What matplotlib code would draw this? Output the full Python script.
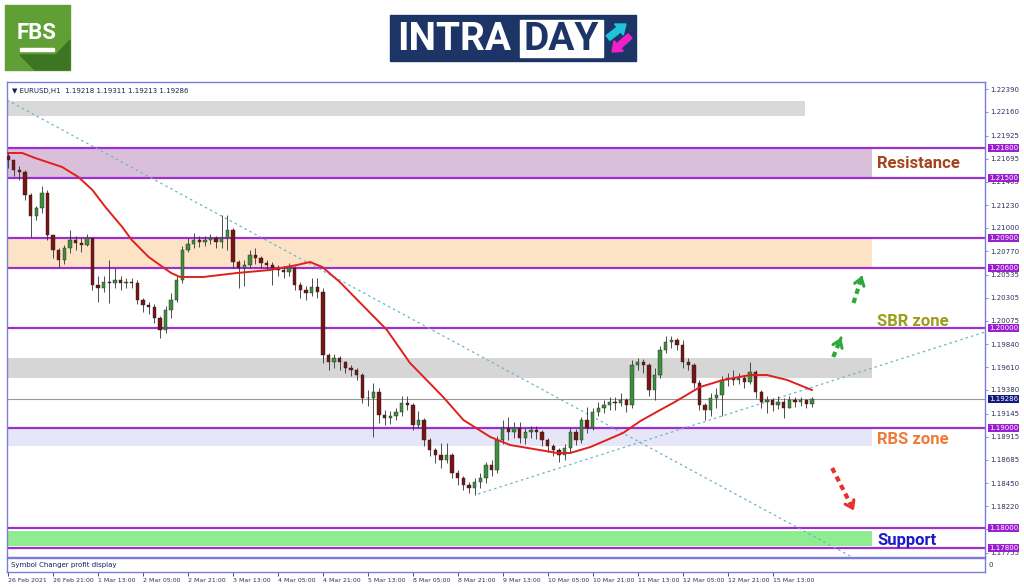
import matplotlib.pyplot as plt
from matplotlib.patches import Rectangle, Polygon, FancyArrow
from matplotlib.transforms import blended_transform_factory

# EURUSD H1 chart (2-hour candles)
closes = [
    1.2168, 1.2158, 1.2156, 1.2133, 1.2112, 1.2120, 1.2135, 1.2093, 1.2078, 1.2068,
    1.2080, 1.2088, 1.2085, 1.2083, 1.2090, 1.2043, 1.2040, 1.2046, 1.2045, 1.2048,
    1.2045, 1.2046, 1.2045, 1.2028, 1.2023, 1.2021, 1.2010, 1.1998, 1.2018, 1.2028,
    1.2048, 1.2078, 1.2084, 1.2088, 1.2086, 1.2088, 1.2090, 1.2086, 1.2090, 1.2098,
    1.2066, 1.2060, 1.2063, 1.2073, 1.2070, 1.2065, 1.2063, 1.2060, 1.2058, 1.2056,
    1.2060, 1.2043, 1.2038, 1.2035, 1.2041, 1.2036, 1.1973, 1.1966, 1.1970, 1.1966,
    1.1960, 1.1958, 1.1953, 1.1930, 1.1930, 1.1936, 1.1913, 1.1910, 1.1912, 1.1916,
    1.1925, 1.1923, 1.1903, 1.1908, 1.1888, 1.1878, 1.1873, 1.1868, 1.1873, 1.1855,
    1.1850, 1.1843, 1.1840, 1.1846, 1.1850, 1.1863, 1.1858, 1.1888, 1.1900, 1.1896,
    1.1900, 1.1890, 1.1896, 1.1898, 1.1896, 1.1888, 1.1882, 1.1878, 1.1873, 1.1880,
    1.1896, 1.1888, 1.1908, 1.1900, 1.1916, 1.1920, 1.1923, 1.1926, 1.1925, 1.1928,
    1.1923, 1.1963, 1.1966, 1.1963, 1.1938, 1.1953, 1.1978, 1.1986, 1.1988, 1.1983,
    1.1966, 1.1963, 1.1945, 1.1923, 1.1918, 1.1930, 1.1933, 1.1948, 1.1950, 1.1948,
    1.1950, 1.1946, 1.1956, 1.1936, 1.1926, 1.1928, 1.1923, 1.1926, 1.1920, 1.1928,
    1.1926, 1.1928, 1.1924, 1.19286]
highs = [
    1.2175, 1.2165, 1.2162, 1.2158, 1.2135, 1.2122, 1.2142, 1.2138, 1.2092, 1.2080,
    1.2083, 1.2098, 1.2092, 1.2090, 1.2094, 1.2090, 1.2052, 1.2052, 1.2068, 1.2060,
    1.2052, 1.2050, 1.2050, 1.2048, 1.2030, 1.2026, 1.2024, 1.2012, 1.2022, 1.2035,
    1.2052, 1.2082, 1.2090, 1.2095, 1.2092, 1.2092, 1.2094, 1.2092, 1.2113, 1.2113,
    1.2100, 1.2068, 1.2068, 1.2078, 1.2080, 1.2072, 1.2068, 1.2066, 1.2063, 1.2062,
    1.2065, 1.2062, 1.2046, 1.2042, 1.2050, 1.2050, 1.2040, 1.1975, 1.1974, 1.1972,
    1.1967, 1.1963, 1.1960, 1.1955, 1.1938, 1.1945, 1.1940, 1.1918, 1.1917, 1.1920,
    1.1932, 1.1932, 1.1925, 1.1917, 1.1910, 1.1890, 1.1880, 1.1885, 1.1885, 1.1875,
    1.1858, 1.1852, 1.1846, 1.1850, 1.1855, 1.1866, 1.1868, 1.1892, 1.1908, 1.1911,
    1.1906, 1.1906, 1.1900, 1.1902, 1.1902, 1.1898, 1.1890, 1.1884, 1.1880, 1.1884,
    1.1900, 1.1899, 1.1911, 1.1921, 1.1920, 1.1926, 1.1928, 1.1931, 1.1931, 1.1935,
    1.1930, 1.1968, 1.1970, 1.1969, 1.1965, 1.1960, 1.1982, 1.1992, 1.1992, 1.1990,
    1.1988, 1.1970, 1.1965, 1.1948, 1.1925, 1.1935, 1.1940, 1.1952, 1.1955, 1.1958,
    1.1955, 1.1953, 1.1966, 1.1958, 1.1938, 1.1932, 1.1930, 1.1932, 1.1930, 1.1932,
    1.1931, 1.1931, 1.1929, 1.19311]
lows = [
    1.2160, 1.2152, 1.2148, 1.2128, 1.2091, 1.2108, 1.2115, 1.2088, 1.2070, 1.2061,
    1.2064, 1.2075, 1.2078, 1.2076, 1.2082, 1.2038, 1.2026, 1.2036, 1.2025, 1.2040,
    1.2038, 1.2040, 1.2040, 1.2024, 1.2016, 1.2014, 1.2005, 1.1990, 1.1995, 1.2010,
    1.2026, 1.2045, 1.2076, 1.2080, 1.2081, 1.2082, 1.2084, 1.2080, 1.2080, 1.2078,
    1.2060, 1.2040, 1.2042, 1.2060, 1.2064, 1.2060, 1.2058, 1.2043, 1.2052, 1.2050,
    1.2052, 1.2038, 1.2030, 1.2028, 1.2032, 1.2030, 1.1965, 1.1958, 1.1960, 1.1958,
    1.1955, 1.1952, 1.1948, 1.1925, 1.1922, 1.1891, 1.1905, 1.1903, 1.1904, 1.1908,
    1.1912, 1.1918, 1.1898, 1.1900, 1.1882, 1.1872, 1.1865, 1.1860, 1.1865, 1.1850,
    1.1843, 1.1838, 1.1835, 1.1833, 1.1840, 1.1845, 1.1852, 1.1855, 1.1884, 1.1888,
    1.1890, 1.1885, 1.1884, 1.1890, 1.1889, 1.1882, 1.1876, 1.1872, 1.1866, 1.1868,
    1.1875, 1.1883, 1.1885, 1.1895, 1.1898, 1.1912, 1.1915, 1.1918, 1.1918, 1.1922,
    1.1916, 1.1920, 1.1958, 1.1955, 1.1932, 1.1928, 1.1950, 1.1975, 1.1980, 1.1978,
    1.1960, 1.1958, 1.1940, 1.1918, 1.1908, 1.1912, 1.1920, 1.1912, 1.1942, 1.1943,
    1.1944, 1.1940, 1.1944, 1.1930, 1.1920, 1.1915, 1.1917, 1.1919, 1.1910, 1.1920,
    1.1921, 1.1922, 1.1920, 1.19213]
first_open = 1.2172
opens = [first_open] + closes[:-1]

# moving average (red line), read as points
ma_x = [0, 2.5, 4.8, 9.6, 12.5, 15, 17.3, 20.3, 22, 25, 29, 30.6, 34.7, 40.7, 46.6,
        51.4, 53.7, 55.9, 59, 67.4, 71.5, 77.4, 81, 85.8, 89.3, 97.7, 100, 103.6,
        109.4, 112.5, 116, 118.3, 123.1, 127.2, 132, 135, 138.6, 143]
ma_y = [1.2175, 1.2175, 1.2170, 1.2161, 1.2151, 1.2138, 1.2121, 1.2101, 1.2088, 1.2071,
        1.2055, 1.2051, 1.2051, 1.2055, 1.2058, 1.2063, 1.2066, 1.2061, 1.2046, 1.1998,
        1.1965, 1.1931, 1.1908, 1.1891, 1.1883, 1.1875, 1.1875, 1.1881, 1.1895, 1.1907,
        1.1918, 1.1925, 1.1941, 1.1948, 1.1953, 1.1953, 1.1948, 1.1938]

# trend lines (start/end points)
down_tl_x = [-0.2, 149.8]
down_tl_y = [1.2228, 1.1772]
up_tl_x = [83.6, 173.8]
up_tl_y = [1.1834, 1.1996]

# levels and zones
level_lines = [1.2180, 1.2150, 1.2090, 1.2060, 1.2000, 1.1900, 1.1800, 1.1780]
last_price = 1.19286
zones = [  # (low, high, colour, right end)
    (1.2212, 1.2227, '#d9d9d9', 141.8),
    (1.2150, 1.2180, '#d9bfd9', 153.7),
    (1.2060, 1.2090, '#fde3c6', 153.7),
    (1.1950, 1.1970, '#d6d6d6', 153.7),
    (1.1882, 1.1900, '#e6e6f8', 153.7),
    (1.1782, 1.1797, '#90ec90', 153.7),
]
zone_labels = [('Resistance', 1.2164, '#a4441c'), ('SBR zone', 1.2007, '#9c9c1c'),
               ('RBS zone', 1.1888, '#f07a38'), ('Support', 1.1788, '#1a1ac8')]

price_ticks = [1.22390, 1.22160, 1.21925, 1.21695, 1.21465, 1.21230, 1.21000, 1.20770,
               1.20535, 1.20305, 1.20075, 1.19840, 1.19610, 1.19380, 1.19145, 1.18915,
               1.18685, 1.18450, 1.18220, 1.17990, 1.17755]
date_pos = list(range(0, 137, 8))
date_labels = ['26 Feb 2021', '26 Feb 21:00', '1 Mar 13:00', '2 Mar 05:00', '2 Mar 21:00',
               '3 Mar 13:00', '4 Mar 05:00', '4 Mar 21:00', '5 Mar 13:00', '8 Mar 05:00',
               '8 Mar 21:00', '9 Mar 13:00', '10 Mar 05:00', '10 Mar 21:00', '11 Mar 13:00',
               '12 Mar 05:00', '12 Mar 21:00', '15 Mar 13:00']

W, H = 1024, 587
fig = plt.figure(figsize=(W / 100, H / 100), dpi=100)

# header logos, drawn in pixel coordinates
bg = fig.add_axes([0, 0, 1, 1])
bg.set_xlim(0, W)
bg.set_ylim(H, 0)
bg.axis('off')
bg.add_patch(Rectangle((5, 5), 65, 65, color='#5f9f35'))
bg.add_patch(Polygon([(20, 55), (56, 55), (70, 40), (70, 70), (35, 70)], color='#3e7522'))
bg.text(37, 33, 'FBS', color='white', fontsize=16, fontweight='bold', family='Roboto',
        ha='center', va='center')
bg.add_patch(Rectangle((20, 48), 34, 3, color='white'))
bg.add_patch(Rectangle((390, 15), 246, 46, color='#1c3566'))
bg.text(397, 39, 'INTRA', color='white', fontsize=28, fontweight='bold', family='Roboto',
        ha='left', va='center')
bg.add_patch(Rectangle((520, 20), 83, 37, facecolor='white', edgecolor='white'))
bg.text(561, 39, 'DAY', color='#1c3566', fontsize=28, fontweight='bold', family='Roboto',
        ha='center', va='center')
bg.add_patch(FancyArrow(608, 38, 18, -14, width=6, head_width=14, head_length=9,
                        color='#1fc4d8', length_includes_head=True))
bg.add_patch(FancyArrow(630, 36, -18, 16, width=6, head_width=14, head_length=9,
                        color='#f020c8', length_includes_head=True))

# main chart
ax = fig.add_axes([7 / W, 1 - 557 / H, (985 - 7) / W, (557 - 82) / H])
xmin, xmax = -0.2, 173.8
ax.set_xlim(xmin, xmax)
ax.set_ylim(1.1771, 1.2246)

for lo, hi, col, xend in zones:
    ax.add_patch(Rectangle((xmin, lo), xend - xmin, hi - lo, color=col, zorder=1, lw=0))
for lvl in level_lines:
    ax.axhline(lvl, color='#9b30d0', lw=1.6, zorder=2)
ax.axhline(last_price, color='#999999', lw=0.8, zorder=2)

ax.plot(down_tl_x, down_tl_y, color='#70b4c8', lw=0.9, ls=(0, (2, 2.5)), zorder=2)
ax.plot(up_tl_x, up_tl_y, color='#70b4c8', lw=0.9, ls=(0, (2, 2.5)), zorder=2)

x = list(range(len(closes)))
ax.vlines(x, lows, highs, color='#303030', lw=0.6, zorder=3)
body_col = ['#3d8f3d' if c >= o else '#7a1414' for o, c in zip(opens, closes)]
heights = [c - o if abs(c - o) > 0.00004 else 0.00004 for o, c in zip(opens, closes)]
ax.bar(x, heights, bottom=opens, width=0.6, color=body_col, edgecolor='#222222',
       linewidth=0.3, zorder=4)

ax.plot(ma_x, ma_y, color='#e0201c', lw=1.4, zorder=5)

for txt, yv, col in zone_labels:
    ax.text(154.6, yv, txt, color=col, fontsize=12, fontweight='bold', family='Roboto',
            ha='left', va='center', zorder=6)

# dashed direction arrows
arrows = [((150.4, 1.2025), (152.1, 1.2055), '#2ea83a'),
          ((146.8, 1.1971), (148.4, 1.1993), '#2ea83a'),
          ((146.6, 1.1860), (150.7, 1.1815), '#e8302c')]
for (x0, y0), (x1, y1), col in arrows:
    ax.plot([x0, x0 + 0.8 * (x1 - x0)], [y0, y0 + 0.8 * (y1 - y0)], color=col, lw=3,
            ls=(0, (1.3, 1.0)), solid_capstyle='butt', zorder=6)
    ax.annotate('', xy=(x1, y1), xytext=(x0 + 0.75 * (x1 - x0), y0 + 0.75 * (y1 - y0)),
                arrowprops=dict(arrowstyle='->,head_length=0.5,head_width=0.35',
                                color=col, lw=2.2), zorder=6)

ax.text(0.005, 0.988, '\u25bc EURUSD,H1  1.19218 1.19311 1.19213 1.19286',
        transform=ax.transAxes, fontsize=5, color='#1a1a60', va='top', ha='left')

ax.yaxis.tick_right()
ax.set_yticks(price_ticks)
ax.set_yticklabels([f'{v:.5f}' for v in price_ticks])
ax.tick_params(axis='y', labelsize=5, colors='#7b7bdf', labelcolor='#303060', length=2,
               pad=1.5, width=0.6)
ax.set_xticks([])
for sp in ax.spines.values():
    sp.set_color('#7b7bdf')
    sp.set_linewidth(1.0)

trans = blended_transform_factory(ax.transAxes, ax.transData)
for lvl in level_lines:
    ax.text(1.004, lvl, f'{lvl:.5f}', transform=trans, fontsize=5, color='white',
            va='center', ha='left', zorder=10, clip_on=False,
            bbox=dict(boxstyle='square,pad=0.15', fc='#9b1fd0', ec='none'))
ax.text(1.004, last_price, f'{last_price:.5f}', transform=trans, fontsize=5, color='white',
        va='center', ha='left', zorder=10, clip_on=False,
        bbox=dict(boxstyle='square,pad=0.15', fc='#101a80', ec='none'))

# indicator sub-window with dates
sub = fig.add_axes([7 / W, 1 - 572 / H, (985 - 7) / W, (572 - 558) / H])
sub.set_xlim(xmin, xmax)
sub.set_ylim(0, 1)
sub.set_yticks([])
for sp in sub.spines.values():
    sp.set_color('#7b7bdf')
    sp.set_linewidth(1.0)
sub.text(0.004, 0.5, 'Symbol Changer profit display', transform=sub.transAxes,
         fontsize=5, color='#1a1a60', va='center', ha='left')
sub.text(1.004, 0.5, '0', transform=sub.transAxes, fontsize=5, color='#303060',
         va='center', ha='left')
sub.set_xticks(date_pos)
sub.set_xticklabels(date_labels, ha='left')
sub.tick_params(axis='x', labelsize=4.5, colors='#303060', length=3, pad=1.5, width=0.6)

fig.savefig('out.png', dpi=100)
